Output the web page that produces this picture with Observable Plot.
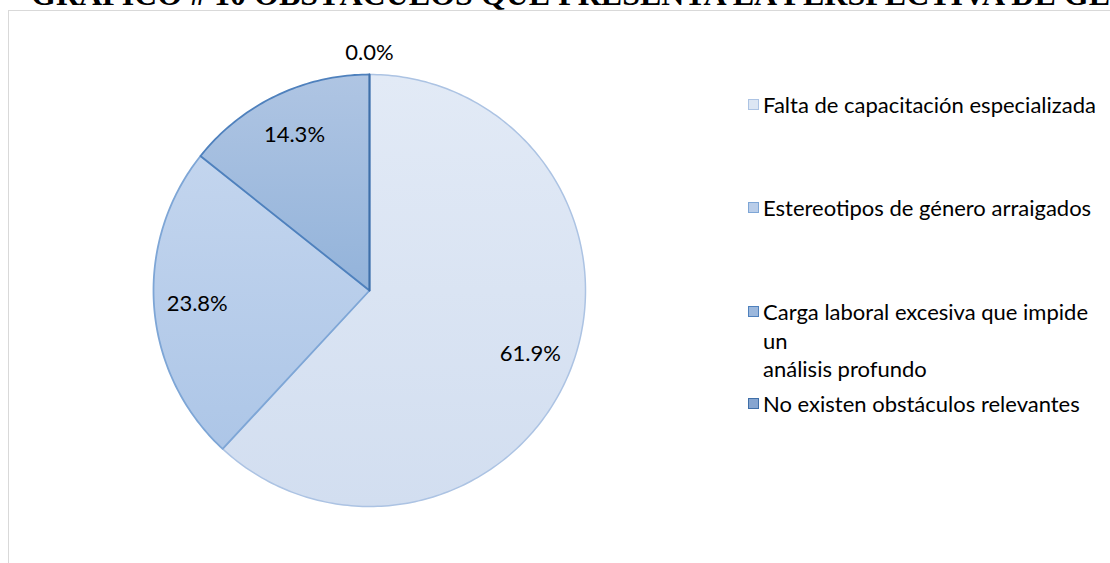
<!DOCTYPE html>
<html>
<head>
<meta charset="utf-8">
<script src="https://cdn.jsdelivr.net/npm/d3@7"></script>
<script src="https://cdn.jsdelivr.net/npm/@observablehq/plot@0.6"></script>
<style>
  html, body { margin: 0; padding: 0; background: #fff; }
  #wrap { position: relative; width: 1110px; height: 563px; overflow: hidden; background: #fff; }
  #frame { position: absolute; left: 8px; top: 10px; width: 1300px; height: 800px; border: 1px solid #d9d9d9; box-sizing: border-box; }
  #chart { position: absolute; left: 0; top: 0; }
  #title { position: absolute; left: 0; top: 0; }
  .item { position: absolute; left: 748px; font-family: Lato, "Open Sans", sans-serif; font-size: 22px; line-height: 28.5px; color: #000; white-space: nowrap; }
  .sw { position: absolute; left: 0; top: 8px; width: 11px; height: 11px; box-sizing: border-box; border: 1px solid; }
  .txt { position: absolute; left: 15px; top: 0; }
</style>
</head>
<body>
<div id="wrap">
  <div id="frame"></div>
  <div id="chart"></div>
  <svg id="title" width="1110" height="20"></svg>
  <div id="legend"></div>
</div>
<script>
// ---- data ----
const title = "GRÁFICO # 10 OBSTÁCULOS QUE PRESENTA LA PERSPECTIVA DE GÉNERO";
const categories = [
  "Falta de capacitación especializada",
  "Estereotipos de género arraigados",
  "Carga laboral excesiva que impide un análisis profundo",
  "No existen obstáculos relevantes"
];
const percentages = [61.9, 23.8, 14.3, 0.0];
const legendLines = [
  ["Falta de capacitación especializada"],
  ["Estereotipos de género arraigados"],
  ["Carga laboral excesiva que impide", "un", "análisis profundo"],
  ["No existen obstáculos relevantes"]
];
const gradientTop = ["#e2eaf6", "#c3d5ee", "#afc5e3", "#8eabd3"];
const gradientBottom = ["#d2def0", "#adc6e7", "#93b3da", "#7f9fcb"];
const sliceStroke = ["#acc3e3", "#7ea6d6", "#4f81bd", "#3f6fa8"];
const swatchFill = ["#dce6f3", "#b9cde9", "#9cb8dd", "#86a5d0"];

// ---- build geometry from data ----
const data = categories.map((c, i) => ({category: c, value: percentages[i], i}));
const arcs = d3.pie().sort(null).value(d => d.value)(data);
const features = arcs.map(a => {
  const ring = [[0, 0]];
  const steps = Math.max(2, Math.ceil((a.endAngle - a.startAngle) / (2 * Math.PI) * 360));
  for (let k = 0; k <= steps; k++) {
    const t = a.startAngle + (a.endAngle - a.startAngle) * k / steps;
    ring.push([Math.sin(t), -Math.cos(t)]);
  }
  ring.push([0, 0]);
  return {type: "Feature", properties: {i: a.data.i}, geometry: {type: "Polygon", coordinates: [ring]}};
});
const labels = arcs.map(a => {
  const mid = (a.startAngle + a.endAngle) / 2;
  const rr = a.data.value > 0 ? 0.8 : 1.1;
  return {x: rr * Math.sin(mid), y: -rr * Math.cos(mid), text: a.data.value.toFixed(1) + "%"};
});

const defsMark = () => {
  const defs = d3.create("svg:defs");
  data.forEach((d, i) => {
    const g = defs.append("linearGradient").attr("id", "grad" + i)
      .attr("x1", 0).attr("y1", 0).attr("x2", 0).attr("y2", 1);
    g.append("stop").attr("offset", "0%").attr("stop-color", gradientTop[i]);
    g.append("stop").attr("offset", "100%").attr("stop-color", gradientBottom[i]);
  });
  return defs.node();
};

const W = 1110, H = 563;
const plot = Plot.plot({
  width: W,
  height: H,
  marginLeft: 153,
  marginRight: 525,
  marginTop: 74,
  marginBottom: 57,
  style: {background: "transparent", overflow: "visible"},
  projection: {type: "identity", reflectY: true, clip: false, domain: {type: "MultiPoint", coordinates: [[-1, -1], [1, 1]]}},
  marks: [
    defsMark,
    ...features.map((f, i) => Plot.geo([f], {
      fill: `url(#grad${i})`,
      stroke: sliceStroke[i],
      strokeWidth: i === 0 ? 1.5 : 1.8,
      strokeLinejoin: "round",
      clip: false
    })),
    Plot.text(labels, {
      x: "x", y: "y", text: "text",
      fontSize: 22, fontFamily: "Lato, 'Open Sans', sans-serif",
      fill: "#000", textAnchor: "middle", lineAnchor: "middle",
      clip: false
    })
  ]
});
document.getElementById("chart").appendChild(plot);

// ---- title ----
const tsvg = d3.select("#title");
tsvg.append("text").attr("x", 31).attr("y", 5)
  .attr("font-family", "'Liberation Serif', serif").attr("font-weight", "bold")
  .attr("font-size", 32).attr("fill", "#000").text(title);

// ---- legend ----
const legendTops = [91, 194, 298, 390];
const legend = d3.select("#legend");
legendLines.forEach((lines, i) => {
  const item = legend.append("div").attr("class", "item").style("top", legendTops[i] + "px");
  item.append("div").attr("class", "sw")
    .style("background", swatchFill[i]).style("border-color", sliceStroke[i]);
  const t = item.append("div").attr("class", "txt");
  lines.forEach(l => t.append("div").text(l));
});
</script>
</body>
</html>
